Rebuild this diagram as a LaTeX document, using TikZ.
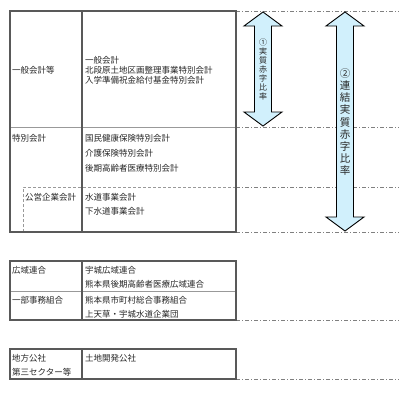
\documentclass[tikz,border=0pt]{standalone}
\usepackage{fontspec}
\newfontfamily\jpfont{Noto Sans CJK JP}
\tikzset{
  frame/.style={draw=black!65, line width=1.1pt},
  rowline/.style={draw=black!40, line width=0.6pt},
  subline/.style={draw=black!40, densely dashed, line width=0.5pt},
  guide/.style={draw=black!50, dash pattern=on 4pt off 2pt on 1pt off 2pt, line width=0.5pt},
  ratio/.style={fill=cyan!18, draw=black, line width=0.9pt, line join=miter},
  cell/.style={font=\jpfont\fontsize{8.5}{9}\selectfont, inner sep=0pt, anchor=west, text=black!85},
}
% 両端矢印 {中心x}{上端}{下端}
\newcommand{\ratioarrow}[3]{%
  \draw[ratio] (#1,#2) -- (#1+19,#2+14) -- (#1+8.5,#2+14) -- (#1+8.5,#3-14)
    -- (#1+19,#3-14) -- (#1,#3) -- (#1-19,#3-14) -- (#1-8.5,#3-14)
    -- (#1-8.5,#2+14) -- (#1-19,#2+14) -- cycle;}
\begin{document}
\begin{tikzpicture}[x=1pt, y=-1pt]
  \useasboundingbox (0,0) rectangle (400,400);

  % 1. 補助線 (一点鎖線)
  \foreach \y in {11,127,187,232,320,379}
    \draw[guide] (236,\y) -- (399,\y);

  % 2. 一般会計等・特別会計の表
  \draw[rowline] (10,127) -- (236,127);
  \draw[subline] (23,232) -- (23,187) -- (236,187);
  \draw[frame] (82,11) -- (82,232);
  \draw[frame] (10,11) rectangle (236,232);

  \node[cell] (ippan) at (12,70) {一般会計等};
  \node[cell] (ippan1) at (85,60) {一般会計};
  \node[cell] (ippan2) at (85,70) {北段原土地区画整理事業特別会計};
  \node[cell] (ippan3) at (85,80) {入学準備祝金給付基金特別会計};

  \node[cell] (tokubetsu) at (12,138) {特別会計};
  \node[cell] (kokuho) at (85,138) {国民健康保険特別会計};
  \node[cell] (kaigo) at (85,153) {介護保険特別会計};
  \node[cell] (koki) at (85,168) {後期高齢者医療特別会計};

  \node[cell] (koei) at (25,197) {公営企業会計};
  \node[cell] (suido) at (85,197) {水道事業会計};
  \node[cell] (gesui) at (85,211) {下水道事業会計};

  % 3. 広域連合・一部事務組合の表
  \draw[rowline] (10,291) -- (236,291);
  \draw[frame] (82,261) -- (82,320);
  \draw[frame] (10,261) rectangle (236,320);

  \node[cell] (koiki) at (12,270) {広域連合};
  \node[cell] (uki) at (85,270) {宇城広域連合};
  \node[cell] (kumakoki) at (85,284) {熊本県後期高齢者医療広域連合};
  \node[cell] (ichibu) at (12,300) {一部事務組合};
  \node[cell] (somu) at (85,300) {熊本県市町村総合事務組合};
  \node[cell] (kigyodan) at (85,314) {上天草・宇城水道企業団};

  % 4. 地方公社・第三セクター等の表
  \draw[frame] (82,349) -- (82,379);
  \draw[frame] (10,349) rectangle (236,379);

  \node[cell] (kosha) at (12,358) {地方公社};
  \node[cell] (sansec) at (12,372) {第三セクター等};
  \node[cell] (tochi) at (85,358) {土地開発公社};

  % 5. 比率の矢印
  \ratioarrow{263}{12}{126}
  \node[cell, anchor=center, align=center, font=\jpfont\fontsize{8}{9}\selectfont]
    (jisshitsu) at (263,69) {①\\実\\質\\赤\\字\\比\\率};
  \ratioarrow{345}{12}{231}
  \node[cell, anchor=center, align=center, font=\jpfont\fontsize{10.5}{12.2}\selectfont]
    (renketsu) at (345,122) {②\\連\\結\\実\\質\\赤\\字\\比\\率};
\end{tikzpicture}
\end{document}
